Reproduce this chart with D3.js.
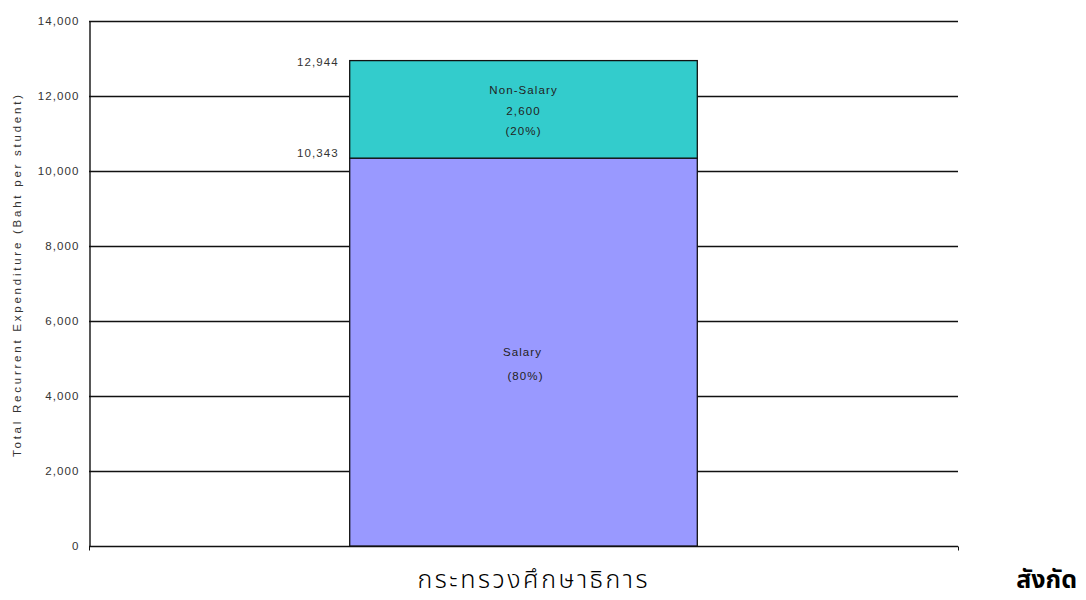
<!DOCTYPE html>
<html><head><meta charset="utf-8">
<script src="https://cdn.jsdelivr.net/npm/d3@7"></script>
<style>body{margin:0;background:#fff}</style>
</head><body>
<svg id="c" width="1086" height="600"></svg>
<script>
const categories = ["กระทรวงศึกษาธิการ"];
const seriesNames = ["Salary", "Non-Salary"];
const salary = [10343];
const nonSalary = [2601];
const nonSalaryLabel = ["2,600"];
const shareLabels = ["(80%)", "(20%)"];
const totalLabels = ["10,343", "12,944"];
const yTicks = [0, 2000, 4000, 6000, 8000, 10000, 12000, 14000];
const yTitle = "Total Recurrent Expenditure (Baht per student)";
const sideLabel = "สังกัด";
const colors = ["#9999FF", "#33CCCC"];

const svg = d3.select("#c");
const m = {l: 89, r: 958, t: 21, b: 546};
const x = d3.scaleBand().domain(categories).range([m.l, m.r]).paddingInner(0.6).paddingOuter(0.3);
const y = d3.scaleLinear().domain([0, 14000]).range([m.b, m.t]);
const font = "Liberation Sans, Arial, sans-serif";
const fs = 11.5, ls = 1.1;

// gridlines
svg.append("g").selectAll("line").data(yTicks.filter(d => d > 0)).join("line")
  .attr("x1", m.l).attr("x2", m.r).attr("y1", d => Math.round(y(d)) + 0.5).attr("y2", d => Math.round(y(d)) + 0.5)
  .attr("stroke", "#111").attr("stroke-width", 1.4);

// y axis
const ya = svg.append("g").attr("transform", `translate(${m.l + 0.5},0)`)
  .call(d3.axisLeft(y).tickValues(yTicks).tickFormat(d3.format(",")).tickSize(0).tickPadding(10));
ya.select(".domain").attr("stroke", "#111").attr("stroke-width", 1.4);
ya.selectAll("text").attr("font-family", font).attr("font-size", fs).attr("letter-spacing", ls).attr("fill", "#333");

// x axis
const xa = svg.append("g").attr("transform", `translate(0,${m.b + 0.5})`);
xa.append("line").attr("x1", m.l).attr("x2", m.r).attr("stroke", "#111").attr("stroke-width", 1.4);
xa.selectAll("line.t").data([m.l, m.r]).join("line").attr("class", "t")
  .attr("x1", d => d + 0.5).attr("x2", d => d + 0.5).attr("y1", 0).attr("y2", 4).attr("stroke", "#111");

// stacked bars
const stack = categories.map((c, i) => [
  {cat: c, name: seriesNames[0], y0: 0, y1: salary[i], color: colors[0]},
  {cat: c, name: seriesNames[1], y0: salary[i], y1: salary[i] + nonSalary[i], color: colors[1]}
]).flat();
svg.append("g").selectAll("rect").data(stack).join("rect")
  .attr("x", d => x(d.cat)).attr("width", x.bandwidth())
  .attr("y", d => y(d.y1)).attr("height", d => y(d.y0) - y(d.y1))
  .attr("fill", d => d.color).attr("stroke", "#111").attr("stroke-width", 1.3);

// total labels left of bar
svg.append("g").selectAll("text").data(stack).join("text")
  .attr("x", d => x(d.cat) - 11).attr("y", (d, i) => y(d.y1) + (i === 0 ? -5 : 1.5))
  .attr("dy", "0.35em").attr("text-anchor", "end")
  .attr("font-family", font).attr("font-size", fs).attr("letter-spacing", ls).attr("fill", "#333")
  .text((d, i) => totalLabels[i]);

// inside labels
const cx = x(categories[0]) + x.bandwidth() / 2;
const nsMid = y(salary[0] + nonSalary[0] * 0.5);
svg.append("text").attr("x", cx).attr("y", nsMid - 15).attr("text-anchor", "middle")
  .attr("font-family", font).attr("font-size", fs).attr("letter-spacing", ls).attr("fill", "#222")
  .selectAll("tspan").data([seriesNames[1], nonSalaryLabel[0], shareLabels[1]]).join("tspan")
  .attr("x", cx).attr("dy", (d, i) => i === 0 ? 0 : 20.5).text(d => d);

const sMid = y(salary[0] * 0.5);
svg.append("text").attr("x", cx).attr("y", sMid + 4).attr("text-anchor", "middle")
  .attr("font-family", font).attr("font-size", fs).attr("letter-spacing", ls).attr("fill", "#222")
  .selectAll("tspan").data([seriesNames[0], shareLabels[0]]).join("tspan")
  .attr("x", (d, i) => cx + (i === 0 ? -1 : 2)).attr("dy", (d, i) => i === 0 ? 0 : 24).text(d => d);

// y title
svg.append("text").attr("transform", `translate(21,${276}) rotate(-90)`)
  .attr("text-anchor", "middle").attr("font-family", font).attr("font-size", fs).attr("fill", "#333")
  .attr("textLength", 362).attr("lengthAdjust", "spacing")
  .text(yTitle);

// category label
svg.append("g").selectAll("text").data(categories).join("text")
  .attr("x", d => x(d) + x.bandwidth() / 2 + 9).attr("y", 588).attr("text-anchor", "middle")
  .attr("font-family", "Noto Sans Thai, Noto Sans, sans-serif").attr("font-size", 25).attr("font-weight", 300).attr("fill", "#000")
  .attr("textLength", 230).attr("lengthAdjust", "spacing")
  .text(d => d);

svg.append("text").attr("x", 1077).attr("y", 588).attr("text-anchor", "end")
  .attr("font-family", "Noto Sans Thai, Noto Sans, sans-serif").attr("font-size", 25).attr("font-weight", "bold").attr("fill", "#000")
  .text(sideLabel);
</script>
</body></html>
